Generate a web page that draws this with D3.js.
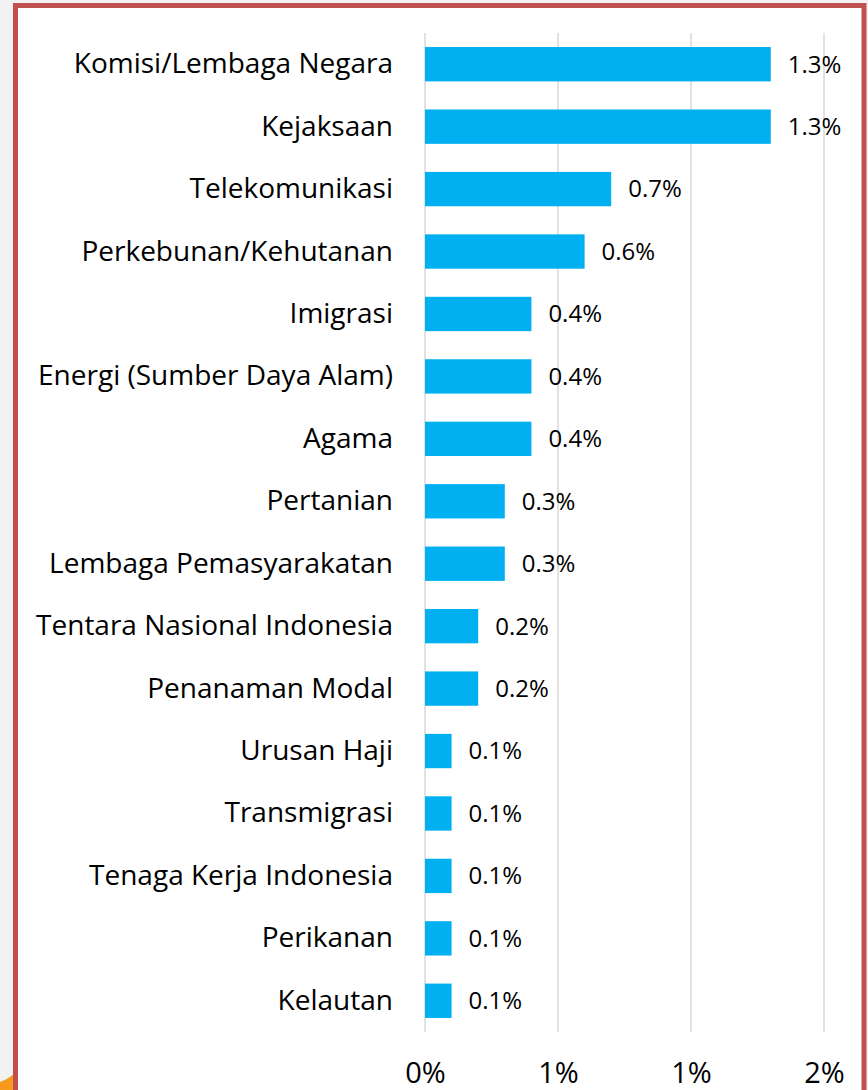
<!DOCTYPE html>
<html>
<head>
	<title>Kategori Bar Chart</title>
	<meta charset="utf-8">
	<script src="https://cdnjs.cloudflare.com/ajax/libs/d3/7.8.5/d3.min.js"></script>
	<style>
		body { margin: 0; background: #f2f2f2; }
		svg { display: block; }
	</style>
</head>
<body>
	<script type="text/javascript">

		// data
		let categories = [
			'Komisi/Lembaga Negara', 'Kejaksaan', 'Telekomunikasi', 'Perkebunan/Kehutanan',
			'Imigrasi', 'Energi (Sumber Daya Alam)', 'Agama', 'Pertanian',
			'Lembaga Pemasyarakatan', 'Tentara Nasional Indonesia', 'Penanaman Modal', 'Urusan Haji',
			'Transmigrasi', 'Tenaga Kerja Indonesia', 'Perikanan', 'Kelautan'
		];
		let values = [1.3, 1.3, 0.7, 0.6, 0.4, 0.4, 0.4, 0.3, 0.3, 0.2, 0.2, 0.1, 0.1, 0.1, 0.1, 0.1];
		let tickValues = [0, 0.5, 1, 1.5];
		let tickLabels = ['0%', '1%', '1%', '2%'];

		let W = 868, H = 1090;
		let font = '"Open Sans", sans-serif';

		let svg = d3.select('body').append('svg')
			.attr('width', W)
			.attr('height', H);

		// outer background + frame
		svg.append('rect')
			.attr('x', 0).attr('y', 0)
			.attr('width', W).attr('height', H)
			.attr('fill', '#f2f2f2');

		// little orange corner peeking out bottom-left
		svg.append('path')
			.attr('d', 'M0,1090 L0,1082 Q8,1079 14,1074 L14,1090 Z')
			.attr('fill', '#f59a1b');

		svg.append('rect')
			.attr('x', 15.5).attr('y', 5.5)
			.attr('width', 848.5).attr('height', 1100)
			.attr('fill', '#ffffff')
			.attr('stroke', '#c0504d')
			.attr('stroke-width', 5);

		// scales
		let x = d3.scaleLinear()
			.domain([0, 1.5])
			.range([425, 824]);

		let y = d3.scaleBand()
			.domain(categories)
			.range([33, 1032])
			.paddingInner(0.45)
			.paddingOuter(0.225);

		// gridlines
		svg.append('g').selectAll('line')
			.data(tickValues)
			.enter().append('line')
			.attr('x1', d => x(d))
			.attr('x2', d => x(d))
			.attr('y1', 33)
			.attr('y2', 1032)
			.attr('stroke', '#d9d9d9')
			.attr('stroke-width', 1.5);

		// x axis labels
		let xAxis = d3.axisBottom(x)
			.tickValues(tickValues)
			.tickFormat((d, i) => tickLabels[i])
			.tickSize(0)
			.tickPadding(0);

		let gx = svg.append('g')
			.attr('transform', 'translate(0,1062)')
			.call(xAxis);
		gx.select('.domain').remove();
		gx.selectAll('text')
			.attr('dy', '0.71em')
			.attr('fill', '#000')
			.style('font-family', font)
			.style('font-size', '29px');

		// y axis labels
		let yAxis = d3.axisLeft(y)
			.tickSize(0)
			.tickPadding(0);

		let gy = svg.append('g')
			.attr('transform', 'translate(393,0)')
			.call(yAxis);
		gy.select('.domain').remove();
		gy.selectAll('text')
			.attr('fill', '#000')
			.style('font-family', font)
			.style('font-size', '28px');

		// bars
		svg.append('g').selectAll('rect')
			.data(values)
			.enter().append('rect')
			.attr('x', x(0))
			.attr('y', (d, i) => y(categories[i]))
			.attr('width', d => x(d) - x(0))
			.attr('height', y.bandwidth())
			.attr('fill', '#00b0f0');

		// value labels
		svg.append('g').selectAll('text')
			.data(values)
			.enter().append('text')
			.attr('x', d => x(d) + 17)
			.attr('y', (d, i) => y(categories[i]) + y.bandwidth() / 2)
			.attr('dy', '0.35em')
			.style('font-family', font)
			.style('font-size', '24px')
			.attr('fill', '#000')
			.text(d => d.toFixed(1) + '%');

	</script>
</body>
</html>
